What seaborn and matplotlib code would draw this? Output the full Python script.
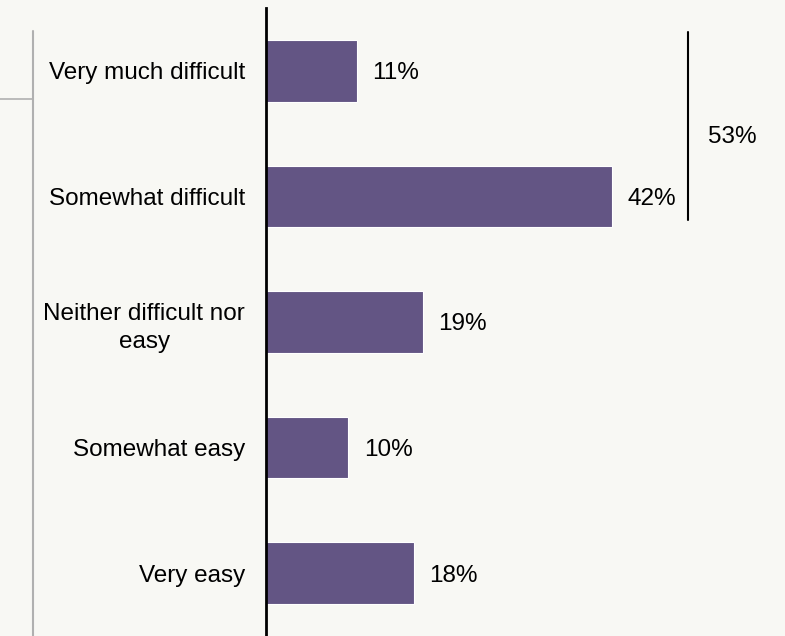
import matplotlib
matplotlib.use("Agg")
import matplotlib.pyplot as plt
from matplotlib.lines import Line2D
import seaborn as sns
import pandas as pd

categories = ["Very much difficult", "Somewhat difficult", "Neither difficult nor\neasy",
              "Somewhat easy", "Very easy"]
values = [11, 42, 19, 10, 18]
bracket_total = values[0] + values[1]

BG = "#f8f8f4"
BAR = "#635584"

sns.set_theme(style="white")
plt.rcParams["font.family"] = ["Liberation Sans", "DejaVu Sans"]

df = pd.DataFrame({"category": categories, "value": values})

fig = plt.figure(figsize=(7.85, 6.36), dpi=100, facecolor=BG)
ax = fig.add_axes([266 / 785, 0, 519 / 785, 628 / 636])
ax.set_facecolor(BG)

sns.barplot(data=df, x="value", y="category", color=BAR, width=0.49,
            saturation=1, ax=ax, edgecolor="white", linewidth=0.8)

ax.set_xlim(0, 63.0)
ax.set_ylim(4.5, -0.5)
ax.set_xlabel("")
ax.set_ylabel("")
ax.set_xticks([])

for s in ["top", "right", "bottom"]:
    ax.spines[s].set_visible(False)
ax.spines["left"].set_color("black")
ax.spines["left"].set_linewidth(2)

ax.tick_params(axis="y", length=0, pad=15, labelsize=17.5, labelcolor="black")
for lbl in ax.get_yticklabels():
    lbl.set_multialignment("center")
    lbl.set_linespacing(1.4)

labels = ax.bar_label(ax.containers[0], labels=[f"{v}%" for v in values],
                      padding=11, fontsize=17.5, color="black")
for t in labels:
    t.set_va("center_baseline")

# bracket for the two "difficult" answers
ax.plot([51.2, 51.2], [-0.31, 1.19], color="black", lw=1.5, clip_on=False)
ax.text(53.7, 0.51, f"{bracket_total}%", fontsize=17.5, va="center_baseline",
        ha="left", color="black")

# grey frame lines at the left
fig.add_artist(Line2D([33 / 785, 33 / 785], [0, 1 - 31 / 636],
                      color="#b0b0b0", lw=1.5))
fig.add_artist(Line2D([0, 33 / 785], [1 - 98.5 / 636, 1 - 98.5 / 636],
                      color="#b0b0b0", lw=1.2))

fig.savefig("out.png", dpi=100, facecolor=BG)
